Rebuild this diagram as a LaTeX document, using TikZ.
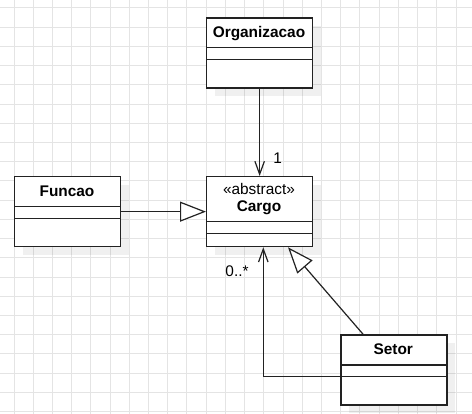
\documentclass[tikz,border=0pt]{standalone}
\usepackage{fontspec}
\setmainfont{Liberation Sans}
\usetikzlibrary{arrows.meta,calc,shadows}
\definecolor{gridc}{HTML}{E4E4E4}
\definecolor{boxc}{HTML}{222222}
\begin{document}
\begin{tikzpicture}[x=1pt,y=-1pt,
  font=\fontsize{15.4}{17.7}\selectfont,
  umlbox/.style={draw=boxc, line width=1.3pt, fill=white, minimum width=106pt,
    minimum height=70pt, inner sep=0pt, anchor=north west,
    drop shadow={shadow xshift=8pt, shadow yshift=-8pt, fill=black, opacity=0.06}},
  sepline/.style={draw=boxc, line width=1.3pt},
  title/.style={font=\fontsize{15.4}{17.7}\selectfont\bfseries, inner sep=0pt},
  plain/.style={inner sep=0pt},
  assoc/.style={draw=boxc, line width=1.2pt, -{Straight Barb[length=13pt,width=9.5pt]}},
  inh/.style={draw=boxc, line width=1.2pt, -{Triangle[open,length=26pt,width=20pt,fill=white]}}
]
\useasboundingbox (0,0) rectangle (472,414);
\fill[white] (0,0) rectangle (472,414);
\foreach \i in {0,...,23} \draw[gridc, line width=1pt] ({14+19.22*\i},0) -- ({14+19.22*\i},414);
\foreach \j in {0,...,21} \draw[gridc, line width=1pt] (0,{8+19.22*\j}) -- (472,{8+19.22*\j});

% boxes
\node[umlbox] (org) at (206,17.3) {};
\node[umlbox] (fun) at (14,176) {};
\node[umlbox] (car) at (206,176) {};
\node[umlbox] (set) at (340.3,334.5) {};

% separators
\draw[sepline] ($(org.north west)+(0,30.5)$) -- ++(106,0);
\draw[sepline] ($(org.north west)+(0,42.5)$) -- ++(106,0);
\draw[sepline] ($(fun.north west)+(0,30.4)$) -- ++(106,0);
\draw[sepline] ($(fun.north west)+(0,42.4)$) -- ++(106,0);
\draw[sepline] ($(car.north west)+(0,45.7)$) -- ++(106,0);
\draw[sepline] ($(car.north west)+(0,57.7)$) -- ++(106,0);
\draw[sepline] ($(set.north west)+(0,30.5)$) -- ++(106,0);
\draw[sepline] ($(set.north west)+(0,42.2)$) -- ++(106,0);

% titles
\node[title] (orgT) at (259,33.5) {Organizacao};
\node[title] (funT) at (67,191.3) {Funcao};
\node[plain] (carS) at (259,188.8) {«abstract»};
\node[title] (carT) at (259,207.3) {Cargo};
\node[title] (setT) at (393.3,349.2) {Setor};

% connectors
\draw[assoc] (org.south) -- (car.north);
\draw[inh] (fun.east) -- (car.west);
\coordinate (s1) at ($(set.north west)+(23,0)$);
\coordinate (c1) at ($(car.south west)+(82,0)$);
\draw[inh] (s1) -- (c1);
\coordinate (s2) at ($(set.north west)+(0,42.2)$);
\coordinate (c2) at ($(car.south west)+(57.3,0)$);
\draw[assoc] (s2) -| (c2);

% labels
\node[plain] (l1) at (277.7,158.3) {1};
\node[plain] (l2) at (237,271.7) {0..*};
\end{tikzpicture}
\end{document}
